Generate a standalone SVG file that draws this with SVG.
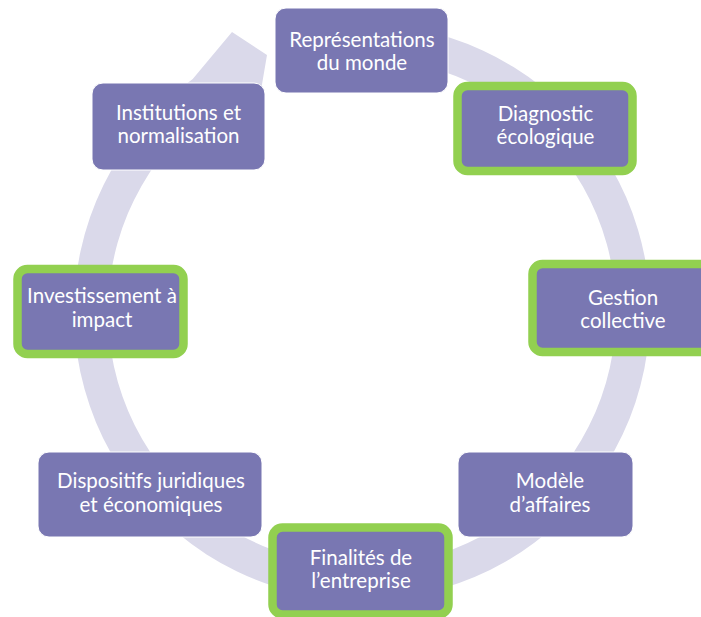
<svg xmlns="http://www.w3.org/2000/svg" width="701" height="617" viewBox="0 0 701 617">
<style>
.box{fill:#7977b2;stroke:#ffffff;stroke-width:1}
.hl{fill:#7977b2;stroke:#92d050;stroke-width:8.5}
.t{font-family:Lato,"Open Sans","Liberation Sans",sans-serif;font-size:20.5px;fill:#ffffff;text-anchor:middle}
</style>
<rect width="701" height="617" fill="#ffffff"/>
<g id="connectors">
<path d="M 311.99 28.37 A 288 288 0 1 1 192.72 79.0 L 232 32 L 267 55 L 259 102 L 227.4 96.6 A 254 254 0 1 0 317.89 61.86 Z" fill="#dad9ea"/>
</g>
<g id="n1">
<rect class="box" x="275" y="8" width="173" height="85" rx="11"/>
<text class="t" x="362" y="46.5">Représentations</text>
<text class="t" x="362" y="70">du monde</text>
</g>
<g id="n2">
<rect class="hl" x="457.5" y="86" width="175" height="85" rx="10"/>
<text class="t" x="545.5" y="120.5">Diagnostic</text>
<text class="t" x="545.5" y="144">écologique</text>
</g>
<g id="n3">
<rect class="hl" x="532.5" y="264" width="181" height="88" rx="10"/>
<text class="t" x="623" y="305">Gestion</text>
<text class="t" x="623" y="328.3">collective</text>
</g>
<g id="n4">
<rect class="box" x="458" y="452" width="175" height="85" rx="11"/>
<text class="t" x="550" y="488.3">Modèle</text>
<text class="t" x="550" y="511.7">d’affaires</text>
</g>
<g id="n5">
<rect class="hl" x="272.5" y="527.5" width="176" height="87" rx="10"/>
<text class="t" x="361" y="565">Finalités de</text>
<text class="t" x="361" y="588.3">l’entreprise</text>
</g>
<g id="n6">
<rect class="box" x="38" y="452" width="224" height="85" rx="11"/>
<text class="t" x="151" y="488.3">Dispositifs juridiques</text>
<text class="t" x="151" y="511.7">et économiques</text>
</g>
<g id="n7">
<rect class="hl" x="17.5" y="269" width="166" height="85" rx="10"/>
<text class="t" x="102" y="303.3">Investissement à</text>
<text class="t" x="102" y="326.7">impact</text>
</g>
<g id="n8">
<rect class="box" x="92" y="83" width="173" height="87" rx="11"/>
<text class="t" x="178.5" y="120">Institutions et</text>
<text class="t" x="178.5" y="143.3">normalisation</text>
</g>
</svg>
